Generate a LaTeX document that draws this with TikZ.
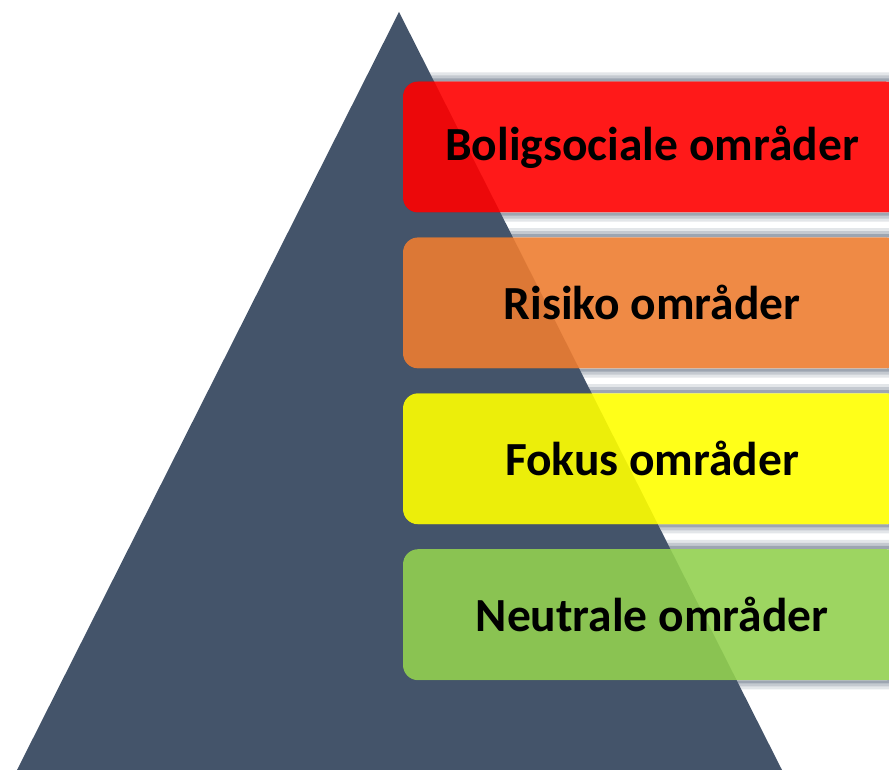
\documentclass[tikz,border=0pt]{standalone}
\usepackage{fontspec}
\setmainfont{Carlito}
\usepackage{tikz}
\usetikzlibrary{positioning}
\definecolor{slate}{RGB}{68,84,106}
\definecolor{levelred}{RGB}{255,0,0}
\definecolor{levelorange}{RGB}{237,125,49}
\definecolor{levelyellow}{RGB}{255,255,0}
\definecolor{levelgreen}{RGB}{146,208,80}

\begin{document}
\begin{tikzpicture}[
  x=1pt, y=1pt,
  node distance=24.5pt,
  level/.style={rectangle, rounded corners=15pt, minimum width=498pt, minimum height=131pt, inner sep=0pt, align=center, fill opacity=0.9, text opacity=1, font=\fontsize{47.5}{52}\selectfont\bfseries},
]
  \useasboundingbox (0,0) rectangle (889,770);

  % Pyramid
  \fill[slate] (17,0) -- (399,758) -- (782,0) -- cycle;

  % Levels
  \node[level, fill=levelred] (bolig) at (652,623) {Boligsociale områder};
  \node[level, fill=levelorange, below=of bolig] (risiko) {Risiko områder};
  \node[level, fill=levelyellow, below=of risiko] (fokus) {Fokus områder};
  \node[level, fill=levelgreen, below=of fokus] (neutral) {Neutrale områder};

  % Glow round the levels
  \foreach \lv in {bolig,risiko,fokus,neutral}
    \foreach \d/\op in {9/0.15,6/0.2,3/0.3}
      \fill[slate, fill opacity=\op, even odd rule, rounded corners=15pt]
        ([shift={(-\d,-\d)}]\lv.south west) rectangle ([shift={(\d,\d)}]\lv.north east)
        (\lv.south west) rectangle (\lv.north east);
\end{tikzpicture}
\end{document}
